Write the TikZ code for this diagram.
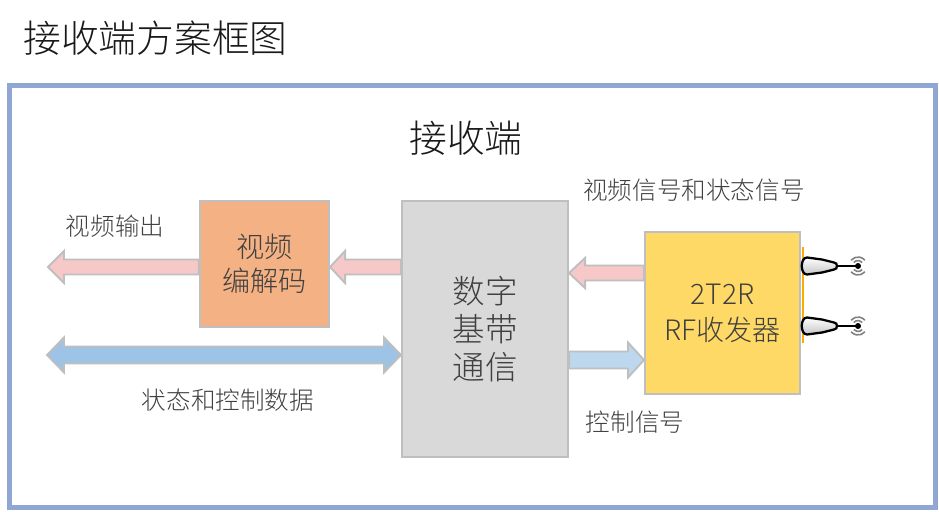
\documentclass[tikz,border=0pt]{standalone}
\usepackage{fontspec}
\setmainfont{Noto Sans CJK SC}[UprightFont={* Light}]
\usetikzlibrary{calc}
\definecolor{F}{RGB}{143,167,210}
\definecolor{Bd}{RGB}{191,191,191}
\definecolor{T}{RGB}{64,64,64}
\definecolor{O}{RGB}{244,177,131}
\definecolor{Gy}{RGB}{217,217,217}
\definecolor{Y}{RGB}{255,217,102}
\definecolor{P}{RGB}{246,200,200}
\definecolor{Bl}{RGB}{157,195,230}
\definecolor{Lb}{RGB}{189,215,238}
\definecolor{An}{RGB}{255,170,0}

% flecha: color, cola, punta, largo punta, medio cuerpo, media punta
\newcommand{\blockarrow}[6]{%
  \draw[blk,fill=#1] ($(#2)+(0,#5)$) -- ($(#3)+(#4,#5)$) -- ($(#3)+(#4,#6)$) -- (#3)
    -- ($(#3)+(#4,-#6)$) -- ($(#3)+(#4,-#5)$) -- ($(#2)+(0,-#5)$) -- cycle;}
% flecha doble: color, punta izq, punta der, largo punta, medio cuerpo, media punta
\newcommand{\dblarrow}[6]{%
  \draw[blk,fill=#1] (#2) -- ($(#2)+(#4,-#6)$) -- ($(#2)+(#4,-#5)$) -- ($(#3)+(-#4,-#5)$)
    -- ($(#3)+(-#4,-#6)$) -- (#3) -- ($(#3)+(-#4,#6)$) -- ($(#3)+(-#4,#5)$)
    -- ($(#2)+(#4,#5)$) -- ($(#2)+(#4,#6)$) -- cycle;}

\begin{document}
\begin{tikzpicture}[x=0.02cm,y=-0.02cm,
    box/.style={draw=Bd,line width=1.2pt,text=T,align=center,inner sep=0pt},
    lbl/.style={text=T,inner sep=0pt,font=\fontsize{14}{17}\selectfont},
    blk/.style={draw=Bd,line width=1.1pt,line join=miter}]
    \useasboundingbox (0,0) rectangle (939,511);

    %Titulo y marco
    \node[anchor=west,inner sep=0pt,text=black!90,font=\fontsize{21.5}{25}\selectfont] (title) at (23,38) {接收端方案框图};
    \draw[F,line width=2.8pt] (9.5,85.5) rectangle (935.5,507.5);
    \node[text=black!90,font=\fontsize{21.5}{25}\selectfont] (rx) at (466,138) {接收端};

    %Cajas
    \node[box,fill=O,minimum width=2.58cm,minimum height=2.52cm,font=\fontsize{16}{19}\selectfont] (codec) at (264.5,264) {视频\\编解码};
    \node[box,fill=Gy,minimum width=3.32cm,minimum height=5.12cm,font=\fontsize{18.5}{21.5}\selectfont] (base) at (485,329) {数字\\基带\\通信};
    \node[box,fill=Y,minimum width=3.10cm,minimum height=3.24cm,font=\fontsize{16}{20.5}\selectfont] (rf) at (722.5,313) {2T2R\\RF收发器};

    %Etiquetas
    \node[lbl] (lsig) at (694,190) {视频信号和状态信号};
    \node[lbl] (lvout) at (115,226) {视频输出};
    \node[lbl] (ldata) at (228,400) {状态和控制数据};
    \node[lbl] (lctl) at (635,422) {控制信号};

    %Flechas
    \coordinate (vout) at (48,267);
    \coordinate (dual) at (47,355);
    \coordinate (sig) at (0,273);
    \coordinate (ctl) at (0,360);
    \blockarrow{P}{codec.west |- vout}{vout}{16}{7.5}{16}
    \blockarrow{P}{base.west |- vout}{codec.east |- vout}{15}{7.5}{16}
    \blockarrow{P}{rf.west |- sig}{base.east |- sig}{16}{7.5}{15}
    \blockarrow{Lb}{base.east |- ctl}{rf.west |- ctl}{-16}{8.5}{17.5}
    \dblarrow{Bl}{dual}{base.west |- dual}{17}{8.5}{17.5}

    %Antenas
    \draw[An,line width=1.2pt] (803,247) -- (803,343);
    \foreach \y in {266,326}{
        \draw[line width=1.3pt,top color=white,bottom color=gray!45] (807,\y-8.5) -- (822,\y-6.5)
            -- (834,\y-3.5) .. controls (838,\y-3.5) and (838,\y+3.5) .. (834,\y+3.5)
            -- (822,\y+6.5) -- (807,\y+8.5)
            .. controls (800,\y+8.5) and (800,\y-8.5) .. (807,\y-8.5) -- cycle;
        \draw[line width=1.2pt] (837,\y) -- (858,\y);
        \fill (858,\y) circle (3);
        \draw[gray,line width=0.9pt] (858,\y) +(40:5.5) arc (40:140:5.5);
        \draw[gray,line width=0.9pt] (858,\y) +(40:9) arc (40:140:9);
        \draw[gray,line width=0.9pt] (858,\y) +(220:5.5) arc (220:320:5.5);
        \draw[gray,line width=0.9pt] (858,\y) +(220:9) arc (220:320:9);
    }
\end{tikzpicture}
\end{document}
